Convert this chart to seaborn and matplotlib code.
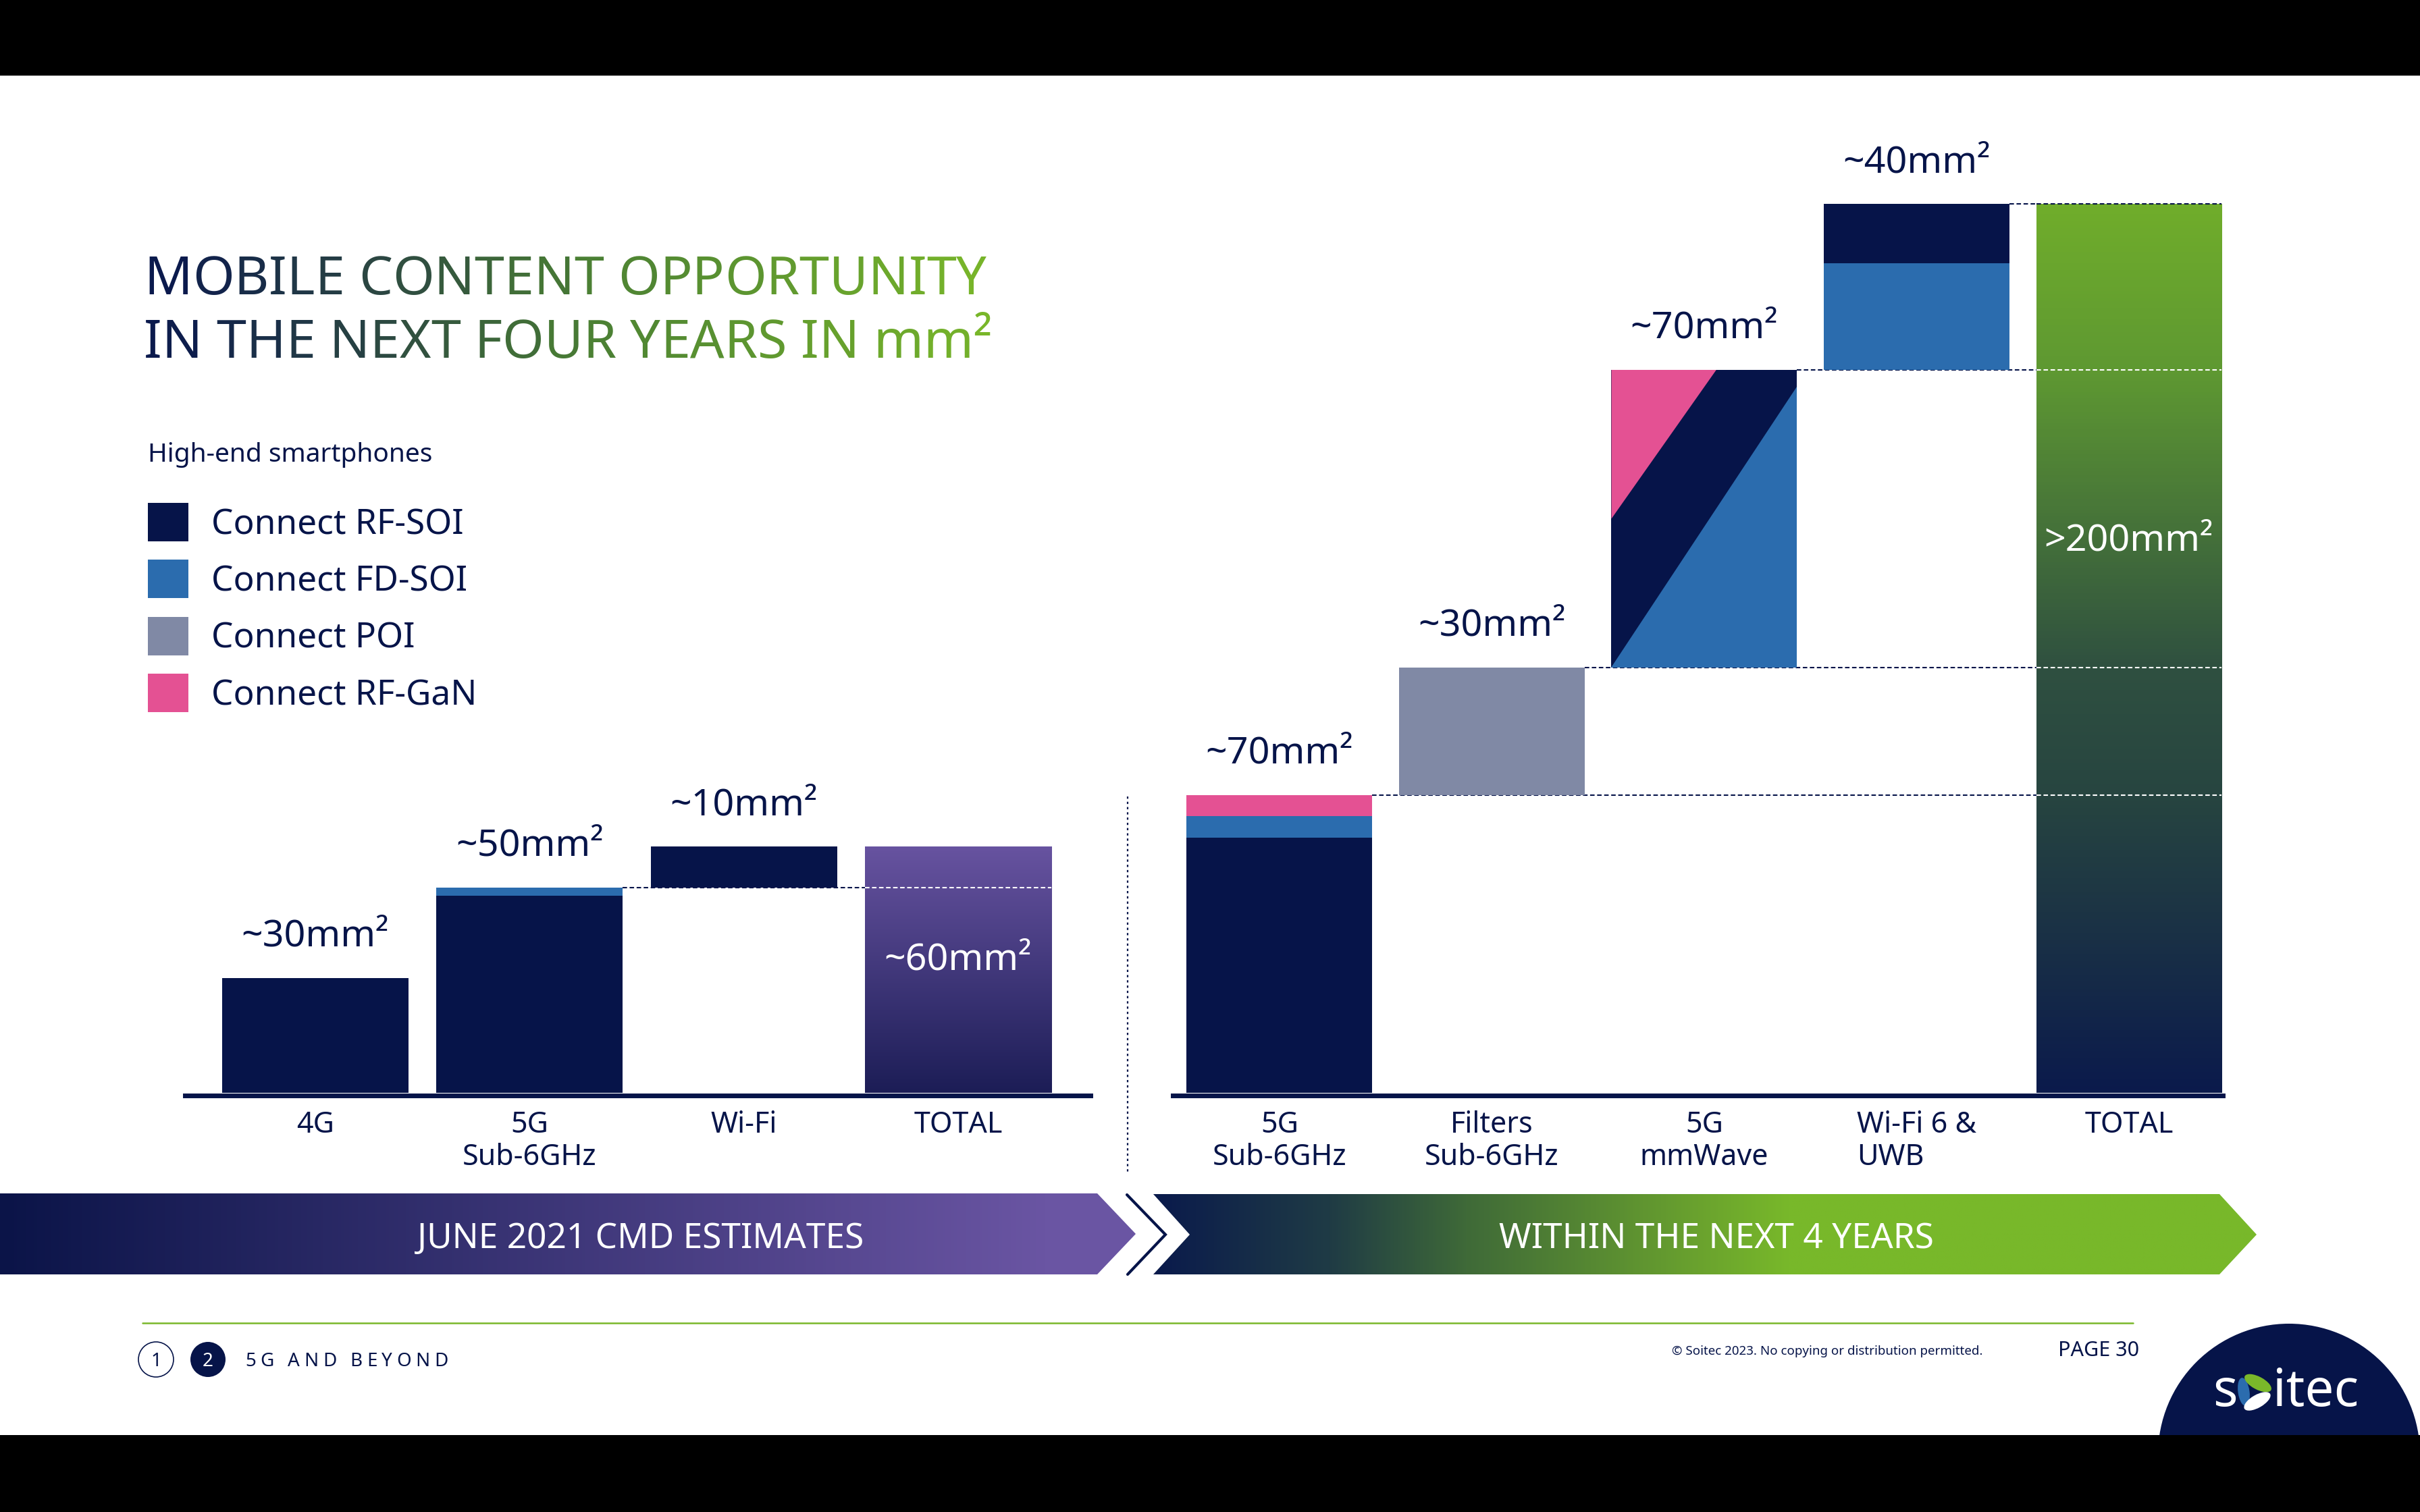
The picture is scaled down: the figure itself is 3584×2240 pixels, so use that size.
import numpy as np
import matplotlib
matplotlib.use("Agg")
import matplotlib.pyplot as plt
import seaborn as sns
from matplotlib.colors import LinearSegmentedColormap
from matplotlib.patches import Rectangle, Polygon, Circle, Ellipse

# ---- data (mm2 per high-end smartphone)
left_cats = ['4G', '5G\nSub-6GHz', 'Wi-Fi', 'TOTAL']
left_seg_cat = [0, 1, 1, 2]
left_seg_tech = ['RF-SOI', 'RF-SOI', 'FD-SOI', 'RF-SOI']
left_seg_value = [28, 48, 2, 10]
left_base = [0, 0, 50, 0]
left_total = 60
left_links = [1]
left_labels = ['~30mm²', '~50mm²', '~10mm²', '~60mm²']

right_cats = ['5G\nSub-6GHz', 'Filters\nSub-6GHz', '5G\nmmWave', 'Wi-Fi 6 &\nUWB', 'TOTAL']
right_seg_cat = [0, 0, 0, 1, 2, 3, 3]
right_seg_tech = ['RF-SOI', 'FD-SOI', 'RF-GaN', 'POI', 'RF-SOI', 'FD-SOI', 'RF-SOI']
right_seg_value = [60, 5, 5, 30, 70, 25, 14]
right_base = [0, 70, 100, 170, 0]
right_total = 209
right_links = [0, 1, 2, 3]
right_labels = ['~70mm²', '~30mm²', '~70mm²', '~40mm²', '>200mm²']

# 5G mmWave bar is split diagonally (GaN / RF-SOI / FD-SOI)
mmwave_gan_top = 0.565   # fraction of bar width where GaN meets the top
mmwave_gan_side = 135    # value where GaN meets the left edge
mmwave_fd_side = 166     # value where FD-SOI meets the right edge

legend_title = 'High-end smartphones'
legend_tech = ['RF-SOI', 'FD-SOI', 'POI', 'RF-GaN']

NAVY = '#061449'
TECH_COLORS = {'RF-SOI': '#061449', 'FD-SOI': '#2b6cae', 'POI': '#8089a5', 'RF-GaN': '#e45193'}

sns.set_style('white')
plt.rcParams['font.family'] = ['Noto Sans', 'DejaVu Sans']

W, H = 3584, 2240
fig = plt.figure(figsize=(W / 100, H / 100), dpi=100)
ov = fig.add_axes([0, 0, 1, 1])
ov.axis('off')
renderer = fig.canvas.get_renderer()


def px_axes(x0, y_top, x1, y_bottom):
    return fig.add_axes([x0 / W, 1 - y_bottom / H, (x1 - x0) / W, (y_bottom - y_top) / H])


def draw_chart(ax, cats, seg_cat, seg_tech, seg_value, base, total, cmap, width):
    level = list(base)
    for c, t, v in zip(seg_cat, seg_tech, seg_value):
        sns.barplot(x=[cats[c]], y=[v], order=cats, bottom=level[c], color=TECH_COLORS[t],
                    width=width, saturation=1, linewidth=0, errorbar=None, ax=ax)
        level[c] += v
    sns.barplot(x=[cats[-1]], y=[total], order=cats, color=NAVY, width=width,
                saturation=1, linewidth=0, errorbar=None, ax=ax)
    bar = ax.patches[-1]
    grad = np.linspace(0, 1, 256).reshape(-1, 1)
    im = ax.imshow(grad, extent=[bar.get_x(), bar.get_x() + bar.get_width(), 0, total],
                   origin='lower', aspect='auto', cmap=cmap, zorder=1.5)
    im.set_clip_path(bar)
    level[-1] = total
    return level


def links(ax, level, members, n, width):
    t_left = (n - 1) - width / 2
    for i in members:
        y = level[i]
        ax.hlines(y, i + width / 2, t_left, colors=NAVY, linewidth=1.5,
                  linestyles=(0, (3.2, 1.8)), zorder=0.5)
        col = NAVY if y >= level[-1] else 'white'
        ax.hlines(y, t_left, (n - 1) + width / 2, colors=col, linewidth=1.5,
                  linestyles=(0, (3.2, 1.8)), zorder=3)


def value_labels(ax, level, labels, inside_frac):
    n = len(labels)
    for i in range(n - 1):
        ax.annotate(labels[i], xy=(i, level[i]), xytext=(0, 34), textcoords='offset points',
                    ha='center', va='baseline', fontsize=40, color=NAVY, zorder=4)
    ax.text(n - 1, inside_frac * level[-1], labels[-1], ha='center', va='baseline',
            fontsize=40, color='white', zorder=4)


def style_axis(ax, cats, xlim, ylim):
    ax.set_facecolor('none')
    for s in ['top', 'left', 'right']:
        ax.spines[s].set_visible(False)
    ax.spines['bottom'].set_color(NAVY)
    ax.spines['bottom'].set_linewidth(5)
    ax.spines['bottom'].set_position(('outward', 3))
    ax.set_yticks([])
    ax.set_xlabel('')
    ax.set_ylabel('')
    ax.set_xticks(range(len(cats)), cats, fontsize=31, linespacing=1.1)
    ax.tick_params(axis='x', length=0, pad=16, labelcolor=NAVY)
    ax.set_xlim(*xlim)
    ax.set_ylim(*ylim)


purple_cmap = LinearSegmentedColormap.from_list('p', ['#1c1d56', '#6753a0'])
green_cmap = LinearSegmentedColormap.from_list(
    'g', [(0, '#0b1a4c'), (0.335, '#274540'), (0.478, '#2f5040'), (0.81, '#5e9832'), (1, '#70ad2b')])

# ---- left chart
axL = px_axes(274, 112, 1615, 1619)
wL = 0.87
levL = draw_chart(axL, left_cats, left_seg_cat, left_seg_tech, left_seg_value,
                  left_base, left_total, purple_cmap, wL)
links(axL, levL, left_links, len(left_cats), wL)
value_labels(axL, levL, left_labels, 0.5)
style_axis(axL, left_cats, (-0.608, 3.618), (0, 247.9))

# ---- right chart
axR = px_axes(1737, 112, 3292, 1619)
wR = 0.874
levR = draw_chart(axR, right_cats, right_seg_cat, right_seg_tech, right_seg_value,
                  right_base, right_total, green_cmap, wR)
x0, x1 = 2 - wR / 2, 2 + wR / 2
lo, hi = right_base[2], levR[2]
axR.add_patch(Polygon([(x0, hi), (x0 + mmwave_gan_top * wR, hi), (x0, mmwave_gan_side)],
                      closed=True, color=TECH_COLORS['RF-GaN'], lw=0, zorder=2))
axR.add_patch(Polygon([(x1, mmwave_fd_side), (x1, lo), (x0, lo)],
                      closed=True, color=TECH_COLORS['FD-SOI'], lw=0, zorder=2))
links(axR, levR, right_links, len(right_cats), wR)
value_labels(axR, levR, right_labels, 0.61)
style_axis(axR, right_cats, (-0.502, 4.442), (0, 239.2))
axR.get_xticklabels()[3].set_multialignment('left')

# ---- overlay: title, legend, banners, footer
ov.set_xlim(0, W)
ov.set_ylim(H, 0)


def text_width(s, **kw):
    t = ov.text(0, 0, s, **kw)
    w = t.get_window_extent(renderer).width
    t.remove()
    return w


def char_text(x, y, s, color=None, cmap=None, span=None, extra=0.0, **kw):
    wI = text_width('I', **kw)
    for i, ch in enumerate(s):
        xi = x + (text_width(s[:i] + 'I', **kw) - wI if i else 0) + extra * i
        if ch == ' ':
            continue
        c = cmap(np.clip((xi - span[0]) / (span[1] - span[0]), 0, 1)) if cmap else color
        ov.text(xi, y, ch, color=c, ha='left', va='baseline', **kw)


title_cmap = LinearSegmentedColormap.from_list(
    't', [(0, '#0b1a4d'), (0.25, '#2a4542'), (0.5, '#4a7f34'), (1, '#7ab829')])
char_text(213, 436, 'MOBILE CONTENT OPPORTUNITY', cmap=title_cmap, span=(213, 1463),
          fontsize=57, fontweight='medium')
char_text(213, 530, 'IN THE NEXT FOUR YEARS IN mm²', cmap=title_cmap, span=(213, 1463),
          fontsize=57, fontweight='medium')

ov.text(219, 684, legend_title, fontsize=28, color=NAVY, va='baseline')
for k, tech in enumerate(legend_tech):
    cy = 773 + k * 84.5
    ov.add_patch(Rectangle((219, cy - 28.5), 60, 57, color=TECH_COLORS[tech], lw=0))
    ov.text(313, cy + 18, 'Connect ' + tech, fontsize=37, color=NAVY, va='baseline')

# divider between the two charts
ov.plot([1670, 1670], [1180, 1740], color=NAVY, lw=1.6, ls=(0, (1.5, 2)))

# banners
left_poly = Polygon([(0, 1768), (1625, 1768), (1682, 1828), (1625, 1888), (0, 1888)],
                    closed=True, fc='none', ec='none', transform=ov.transData)
ov.add_patch(left_poly)
banner_l = LinearSegmentedColormap.from_list('bl', ['#0b1448', '#6a55a3'])
xs = np.clip(np.linspace(0, 1682, 400) / 1554, 0, 1).reshape(1, -1)
im = ov.imshow(xs, extent=[0, 1682, 1888, 1768], aspect='auto', cmap=banner_l, vmin=0, vmax=1, zorder=1)
im.set_clip_path(left_poly)

right_poly = Polygon([(1708, 1769), (3287, 1769), (3342, 1829), (3287, 1888), (1708, 1888), (1762, 1829)],
                     closed=True, fc='none', ec='none', transform=ov.transData)
ov.add_patch(right_poly)
banner_r = LinearSegmentedColormap.from_list(
    'br', [(0, '#0a1a4c'), (0.275, '#1f3b45'), (0.493, '#3f6a38'), (0.857, '#6aa22e'), (1, '#78b82a')])
xs = np.clip((np.linspace(1708, 3342, 600) - 1707) / (2651 - 1707), 0, 1).reshape(1, -1)
im = ov.imshow(xs, extent=[1708, 3342, 1888, 1769], aspect='auto', cmap=banner_r, vmin=0, vmax=1, zorder=1)
im.set_clip_path(right_poly)

ov.plot([1669, 1726, 1670], [1770, 1829, 1888], color=NAVY, lw=3, solid_joinstyle='miter')
ov.text(949, 1849, 'JUNE 2021 CMD ESTIMATES', color='white', fontsize=37, ha='center', va='baseline', zorder=3)
ov.text(2542, 1849, 'WITHIN THE NEXT 4 YEARS', color='white', fontsize=37, ha='center', va='baseline', zorder=3)

# footer
ov.plot([211, 3159], [1960, 1960], color='#7ab82a', lw=1.8)
ov.add_patch(Circle((231, 2014), 26, fill=False, ec=NAVY, lw=1.2))
ov.text(231, 2024, '1', ha='center', va='baseline', fontsize=20, color=NAVY)
ov.add_patch(Circle((308, 2014), 26, color=NAVY, lw=0))
ov.text(308, 2024, '2', ha='center', va='baseline', fontsize=20, color='white', fontweight='bold')
char_text(363, 2024, '5G AND BEYOND', color=NAVY, extra=6.5, fontsize=20)
ov.text(2937, 2007, '© Soitec 2023. No copying or distribution permitted.', ha='right',
        va='baseline', fontsize=13.5, color=NAVY)
ov.text(3048, 2009, 'PAGE 30', ha='left', va='baseline', fontsize=22, color=NAVY)

# logo
ov.add_patch(Circle((3390, 2155), 194, color=NAVY, lw=0, zorder=2))
ov.text(3277, 2083, 's', color='white', fontsize=55, va='baseline', zorder=3)
ov.text(3366, 2083, 'itec', color='white', fontsize=55, va='baseline', zorder=3)
ov.add_patch(Ellipse((3323, 2062), 17, 42, angle=-8, color='#2b6cae', lw=0, zorder=3))
ov.add_patch(Ellipse((3344, 2049), 44, 19, angle=28, color='#7ab82a', lw=0, zorder=3))
ov.add_patch(Ellipse((3343, 2076), 44, 19, angle=-30, color='white', lw=0, zorder=3))

# black letterbox bars
ov.add_patch(Rectangle((0, 0), W, 112, color='black', lw=0, zorder=10))
ov.add_patch(Rectangle((0, 2126), W, H - 2126, color='black', lw=0, zorder=10))
ov.set_xlim(0, W)
ov.set_ylim(H, 0)

fig.savefig('out.png', dpi=100)
